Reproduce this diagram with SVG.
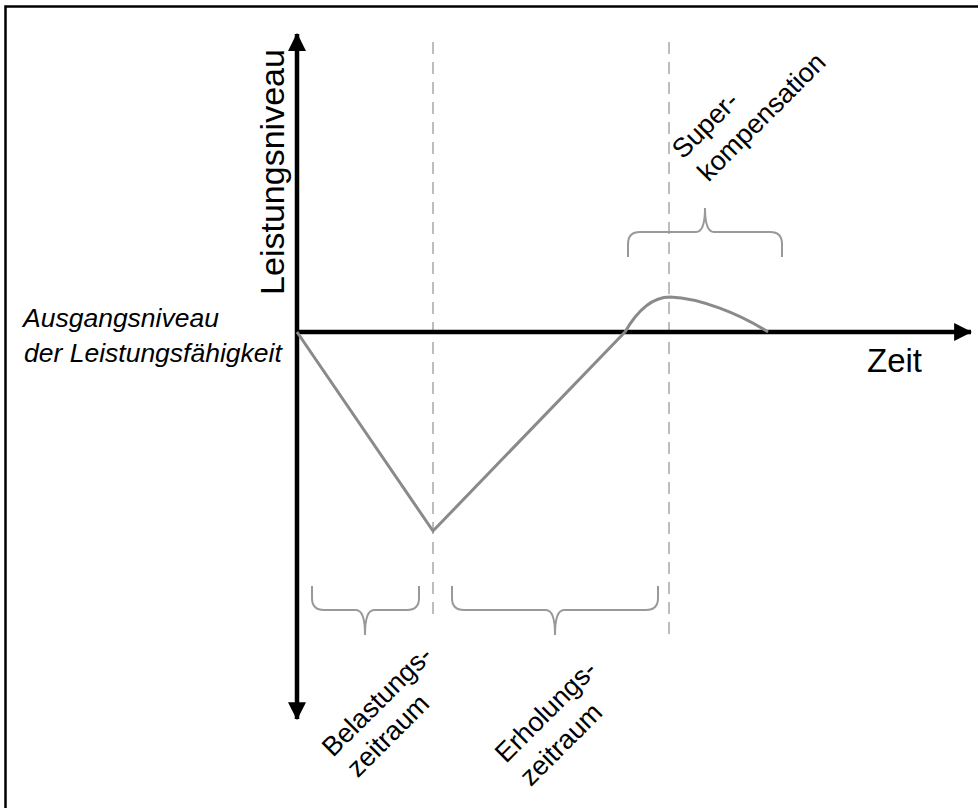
<svg xmlns="http://www.w3.org/2000/svg" width="978" height="808" viewBox="0 0 978 808">
  <style>
    .axis { stroke: #000; stroke-width: 4.5; fill: none; }
    .curve { stroke: #8a8a8a; stroke-width: 3; fill: none; stroke-linejoin: miter; }
    .dash { stroke: #bdbdbd; stroke-width: 2; stroke-dasharray: 12 8; fill: none; }
    .brace { stroke: #999; stroke-width: 2; fill: none; }
    .lbl { font-family: "Liberation Sans", Arial, sans-serif; fill: #000; }
    .it { font-style: italic; }
  </style>
  <defs>
    <marker id="ah" markerUnits="userSpaceOnUse" markerWidth="18" markerHeight="18" refX="15" refY="8" orient="auto-start-reverse" viewBox="0 0 16 16">
      <path d="M0,0 L16,8 L0,16 Z" fill="#000"/>
    </marker>
  </defs>
  <rect x="0" y="0" width="978" height="808" fill="#fff"/>
  <path d="M5.5,820 L5.5,6.5 L990,6.5" stroke="#000" stroke-width="2.5" fill="none"/>

  <g id="guides">
    <line class="dash" x1="433" y1="42" x2="433" y2="622"/>
    <line class="dash" x1="669" y1="42" x2="669" y2="642"/>
  </g>

  <g id="connectors">
    <line id="y-axis" class="axis" x1="297" y1="34" x2="297" y2="719" marker-start="url(#ah)" marker-end="url(#ah)"/>
    <line id="x-axis" class="axis" x1="297" y1="332" x2="971" y2="332" marker-end="url(#ah)"/>
    <polyline class="curve" points="297,332 433,531 625,332"/>
    <path class="curve" stroke-width="3.5" d="M625,332 C640,306 655,297 670,297 C700,298 740,314 768,332"/>
  </g>

  <g id="braces">
    <path class="brace" d="M628,257 L628,244 Q628,232 640,232 L696,232 Q705,232 705,208 Q705,232 714,232 L770,232 Q782,232 782,244 L782,257"/>
    <path class="brace" d="M312,586 L312,598 Q312,610 324,610 L356,610 Q365,610 365,635 Q365,610 374,610 L407,610 Q419,610 419,598 L419,586"/>
    <path class="brace" d="M452,586 L452,598 Q452,610 464,610 L546,610 Q555,610 555,635 Q555,610 564,610 L646,610 Q658,610 658,598 L658,586"/>
  </g>

  <g id="label-y">
    <text class="lbl" font-size="34" text-anchor="middle" transform="translate(284,172) rotate(-90)">Leistungsniveau</text>
  </g>
  <g id="label-x">
    <text class="lbl" font-size="33" x="867" y="372">Zeit</text>
  </g>
  <g id="label-baseline">
    <text class="lbl it" font-size="26.5" x="23" y="327">Ausgangsniveau</text>
    <text class="lbl it" font-size="26.5" x="24" y="362">der Leistungsfähigkeit</text>
  </g>
  <g id="label-super">
    <text class="lbl" font-size="27" transform="translate(683,160) rotate(-45)"><tspan x="0" y="0">Super-</tspan><tspan x="2" y="34">kompensation</tspan></text>
  </g>
  <g id="label-belastung">
    <text class="lbl" font-size="27" transform="translate(333,758) rotate(-45)"><tspan x="0" y="0">Belastungs-</tspan><tspan x="3" y="32">zeitraum</tspan></text>
  </g>
  <g id="label-erholung">
    <text class="lbl" font-size="27" transform="translate(506,764) rotate(-45)"><tspan x="0" y="0">Erholungs-</tspan><tspan x="1" y="34">zeitraum</tspan></text>
  </g>
</svg>
